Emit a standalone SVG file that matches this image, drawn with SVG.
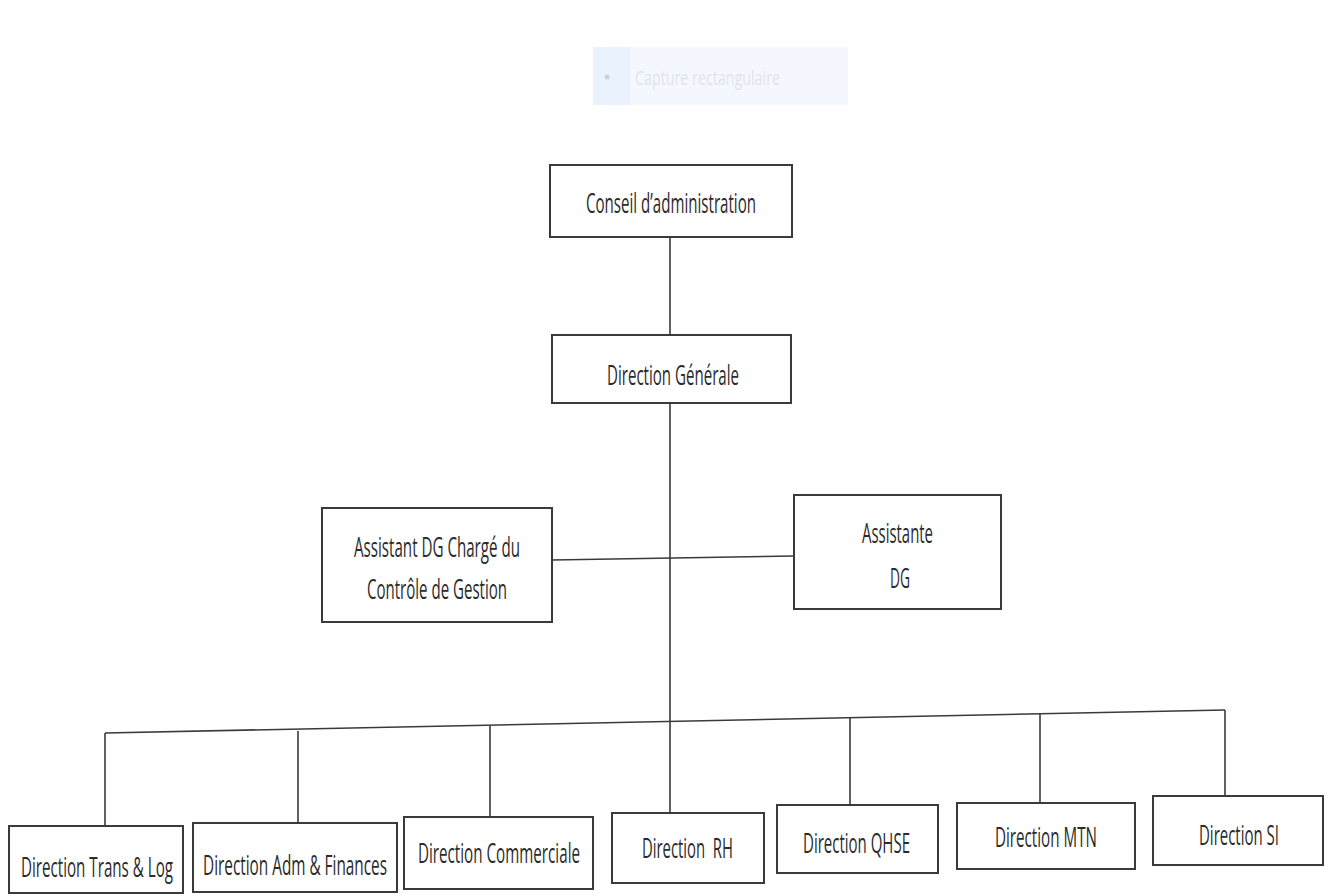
<svg xmlns="http://www.w3.org/2000/svg" width="1333" height="894" viewBox="0 0 1333 894">
<style>
.box{fill:#fff;stroke:#3a3a3a;stroke-width:2}
.lbl{font-family:"Open Sans","Liberation Sans",sans-serif;font-size:16px;fill:#2b2b2b}
.conn{fill:none;stroke:#3a3a3a;stroke-width:1.6}
</style>
<rect width="1333" height="894" fill="#fff"/>
<g id="capture-overlay">
<rect x="593" y="47" width="255" height="58" fill="#f4f8fe"/>
<rect x="593" y="47" width="37" height="58" fill="#eaf2fd"/>
<circle cx="607" cy="77" r="2.5" fill="#c9d3e0"/>
<text transform="translate(635,85) scale(1,1.6)" font-family="Open Sans, sans-serif" font-size="12" fill="#dfe4ea" textLength="145" lengthAdjust="spacingAndGlyphs">Capture rectangulaire</text>
</g>
<g id="connectors">
<line class="conn" x1="670" y1="237" x2="670" y2="335"/>
<line class="conn" x1="670" y1="403" x2="670" y2="813"/>
<line class="conn" x1="552" y1="560" x2="794" y2="556"/>
<line class="conn" x1="105" y1="733" x2="1225" y2="710"/>
<line class="conn" x1="105" y1="733" x2="105" y2="826"/>
<line class="conn" x1="298" y1="731" x2="298" y2="823"/>
<line class="conn" x1="490" y1="726" x2="490" y2="817"/>
<line class="conn" x1="850" y1="717" x2="850" y2="805"/>
<line class="conn" x1="1040" y1="713" x2="1040" y2="803"/>
<line class="conn" x1="1225" y1="710" x2="1225" y2="796"/>
</g>
<g id="conseil">
<rect class="box" x="550" y="165" width="242" height="72"/>
<text class="lbl" transform="translate(586,213) scale(1,1.75)" textLength="170" lengthAdjust="spacingAndGlyphs">Conseil d’administration</text>
</g>
<g id="direction-generale">
<rect class="box" x="552" y="335" width="239" height="68"/>
<text class="lbl" transform="translate(607,385) scale(1,1.75)" textLength="132" lengthAdjust="spacingAndGlyphs">Direction Générale</text>
</g>
<g id="assistant-dg">
<rect class="box" x="322" y="508" width="230" height="114"/>
<text class="lbl" transform="translate(354,557) scale(1,1.75)" textLength="166" lengthAdjust="spacingAndGlyphs">Assistant DG Chargé du</text>
<text class="lbl" transform="translate(367,599) scale(1,1.75)" textLength="140" lengthAdjust="spacingAndGlyphs">Contrôle de Gestion</text>
</g>
<g id="assistante-dg">
<rect class="box" x="794" y="495" width="207" height="114"/>
<text class="lbl" transform="translate(862,543) scale(1,1.75)" textLength="71" lengthAdjust="spacingAndGlyphs">Assistante</text>
<text class="lbl" transform="translate(890,588) scale(1,1.75)" textLength="20" lengthAdjust="spacingAndGlyphs">DG</text>
</g>
<g id="dir-trans-log">
<rect class="box" x="9" y="826" width="174" height="67"/>
<text class="lbl" transform="translate(21,877) scale(1,1.75)" textLength="152" lengthAdjust="spacingAndGlyphs">Direction Trans &amp; Log</text>
</g>
<g id="dir-adm-finances">
<rect class="box" x="193" y="823" width="204" height="69"/>
<text class="lbl" transform="translate(203,875) scale(1,1.75)" textLength="184" lengthAdjust="spacingAndGlyphs">Direction Adm &amp; Finances</text>
</g>
<g id="dir-commerciale">
<rect class="box" x="404" y="817" width="189" height="72"/>
<text class="lbl" transform="translate(418,863) scale(1,1.75)" textLength="162" lengthAdjust="spacingAndGlyphs">Direction Commerciale</text>
</g>
<g id="dir-rh">
<rect class="box" x="612" y="813" width="152" height="70"/>
<text class="lbl" transform="translate(642,858) scale(1,1.75)" textLength="91" lengthAdjust="spacingAndGlyphs" xml:space="preserve">Direction  RH</text>
</g>
<g id="dir-qhse">
<rect class="box" x="777" y="805" width="161" height="68"/>
<text class="lbl" transform="translate(803,853) scale(1,1.75)" textLength="107" lengthAdjust="spacingAndGlyphs">Direction QHSE</text>
</g>
<g id="dir-mtn">
<rect class="box" x="957" y="803" width="178" height="66"/>
<text class="lbl" transform="translate(995,847) scale(1,1.75)" textLength="102" lengthAdjust="spacingAndGlyphs">Direction MTN</text>
</g>
<g id="dir-si">
<rect class="box" x="1153" y="796" width="170" height="69"/>
<text class="lbl" transform="translate(1199,845) scale(1,1.75)" textLength="80" lengthAdjust="spacingAndGlyphs">Direction SI</text>
</g>
</svg>
